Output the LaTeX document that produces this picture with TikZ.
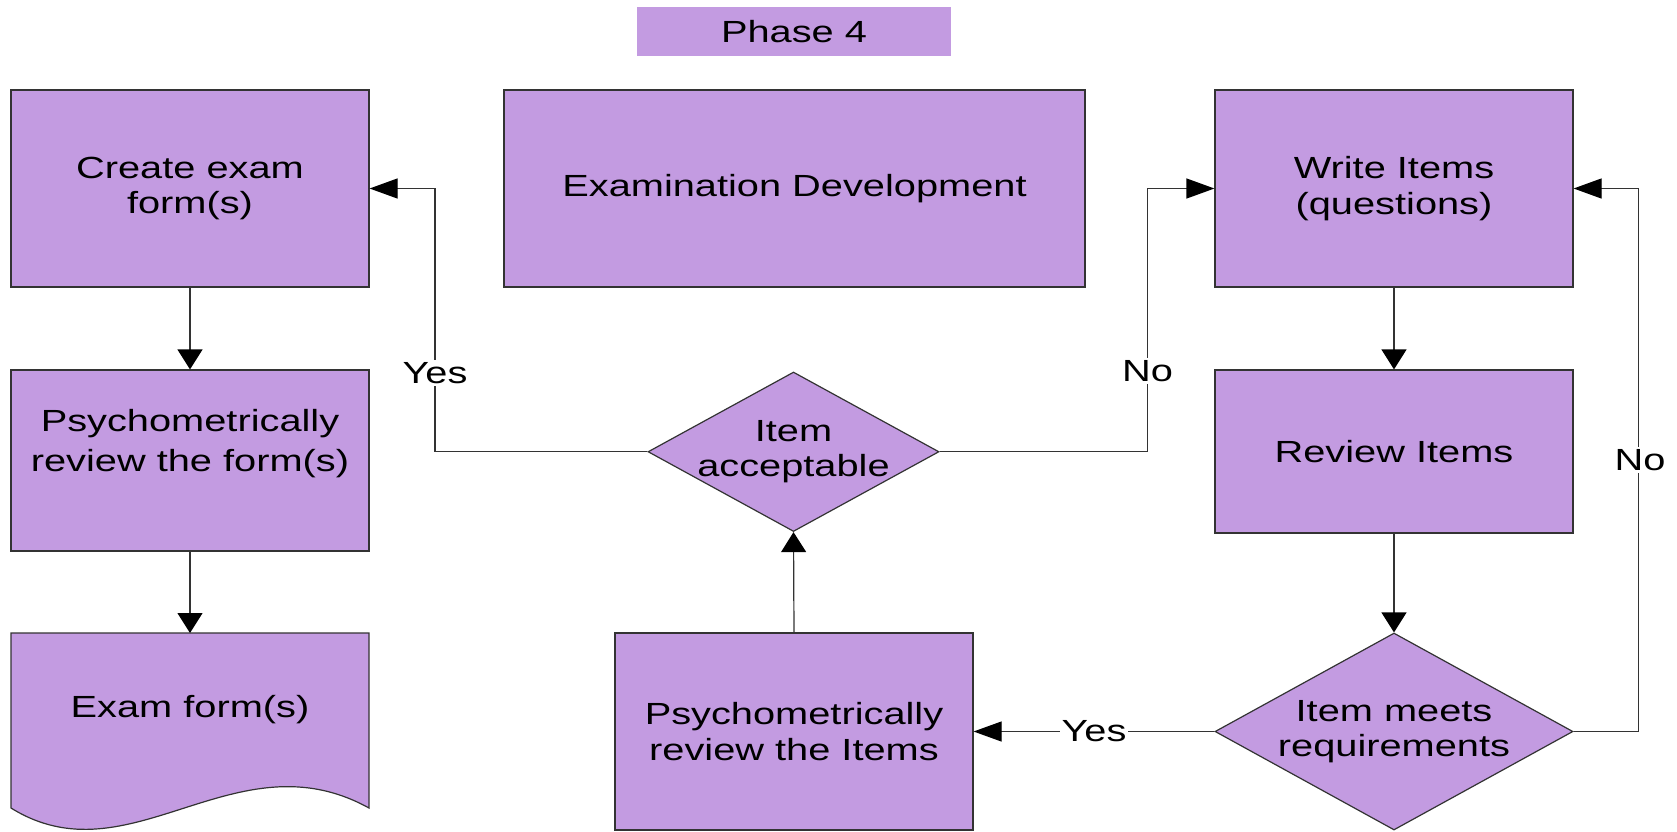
\documentclass[tikz,border=0pt]{standalone}
\usepackage{fontspec}
\setmainfont[FakeStretch=1.3]{Liberation Sans}
\usetikzlibrary{shapes.geometric,arrows.meta}
\definecolor{lav}{HTML}{C39BE1}
\begin{document}
\begin{tikzpicture}[x=0.5pt,y=-0.5pt,
  box/.style={draw=black!80,line width=0.6pt,fill=lav,inner sep=0pt},
  txt/.style={font=\fontsize{15.3}{17.8}\selectfont,align=center},
  conn/.style={draw=black!80,line width=0.6pt},
  harr/.style={-{Triangle[length=14pt,width=10pt,color=black,fill=black]}},
  varr/.style={-{Triangle[length=10pt,width=12.5pt,color=black,fill=black]}},
  lbl/.style={fill=white,inner sep=1pt,font=\fontsize{15.3}{17.8}\selectfont}]
\useasboundingbox (0,0) rectangle (1677,831);

% Phase header
\node[fill=lav,minimum width=157pt,minimum height=24.5pt,inner sep=0pt,txt] (phase) at (794,31.5) {Phase 4};

% boxes
\node[box,rectangle,minimum width=179pt,minimum height=98.5pt,txt] (create) at (190,188.5) {Create exam\\form(s)};
\node[box,rectangle,minimum width=290.5pt,minimum height=98.5pt,txt] (exdev) at (794.5,188.5) {Examination Development};
\node[box,rectangle,minimum width=179pt,minimum height=98.5pt,txt] (write) at (1394,188.5) {Write Items\\(questions)};
\node[box,rectangle,minimum width=179pt,minimum height=90.5pt,
  label={[txt,font=\fontsize{15.3}{20}\selectfont,yshift=8.25pt]center:Psychometrically\\review the form(s)}] (psyform) at (190,460.5) {};
\node[box,rectangle,minimum width=179pt,minimum height=81.5pt,txt] (review) at (1394,451.5) {Review Items};
\node[box,rectangle,minimum width=179pt,minimum height=98.5pt,txt] (psyitems) at (794,731.5) {Psychometrically\\review the Items};

% diamonds
\node[box,diamond,minimum width=145.5pt,minimum height=79.75pt,
  label={[txt]center:Item\\acceptable}] (accept) at (793.5,451.75) {};
\node[box,diamond,minimum width=179pt,minimum height=98.5pt,
  label={[txt]center:Item meets\\requirements}] (meets) at (1394,731.5) {};

% document shape
\coordinate (doctop) at (190,633);
\draw[box] (11,633) -- (369,633) -- (369,808)
  .. controls (235,734) and (130,882) .. (11,808) -- cycle;
\node[txt] (examform) at (190,710) {Exam form(s)};

% connectors
\draw[conn,varr] (create.south) -- (psyform.north);
\draw[conn,varr] (psyform.south) -- (doctop);
\draw[conn,varr] (write.south) -- (review.north);
\draw[conn,varr] (review.south) -- (meets.north);
\draw[conn,varr] (psyitems.north) -- (accept.south);
\draw[conn,harr] (meets.west) -- (psyitems.east);
\draw[conn,harr] (meets.east) -- (1638.5,731.5) -- (1638.5,188.5) -- (write.east);
\draw[conn,harr] (accept.west) -- (435,451.75) -- (435,188.5) -- (create.east);
\draw[conn,harr] (accept.east) -- (1147.5,451.75) -- (1147.5,188.5) -- (write.west);

% labels
\node[lbl] (yes1) at (1094,731.5) {Yes};
\node[lbl] (yes2) at (435,373) {Yes};
\node[lbl] (no1) at (1147.5,371) {No};
\node[lbl] (no2) at (1640,460) {No};
\end{tikzpicture}
\end{document}
